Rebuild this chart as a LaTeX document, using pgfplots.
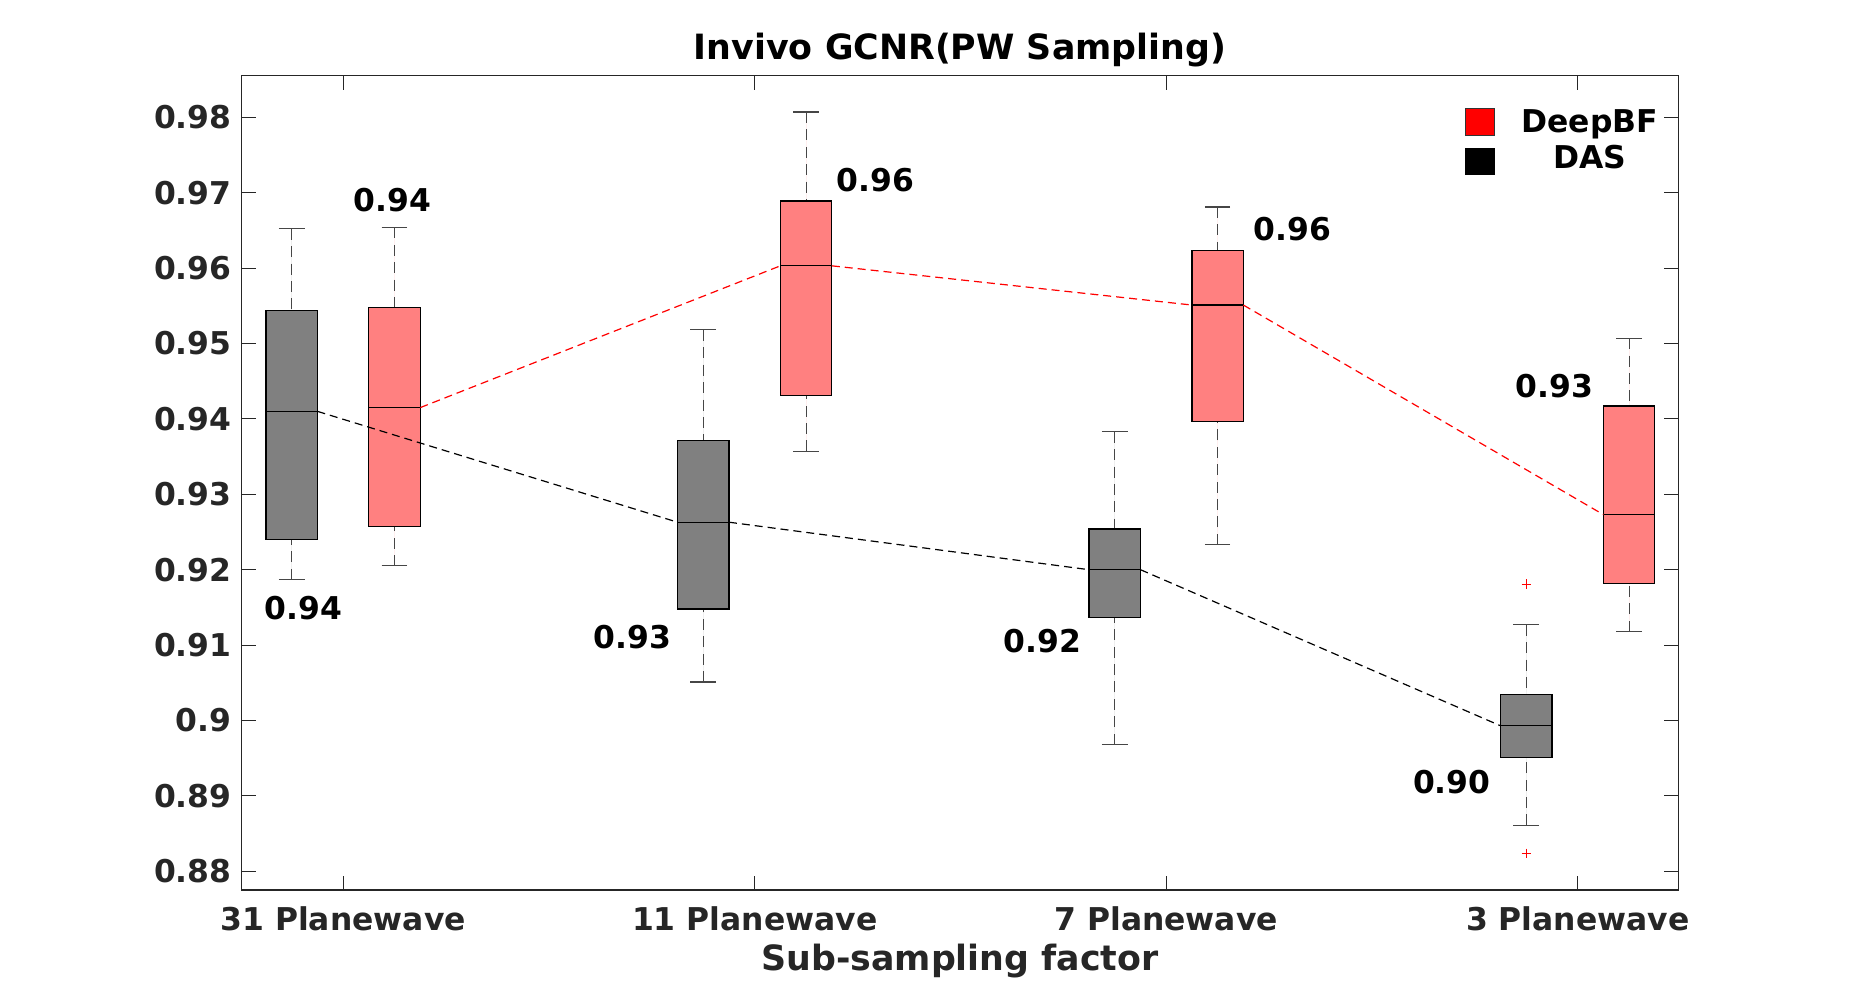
\documentclass[border=0pt]{standalone}
\usepackage{fontspec}
\setmainfont{DejaVu Sans}
\usepackage{pgfplots}
\pgfplotsset{compat=1.18}
\usepgfplotslibrary{statistics}
\definecolor{axgray}{RGB}{38,38,38}
\definecolor{dasfill}{RGB}{128,128,128}
\definecolor{bffill}{RGB}{255,128,128}
\definecolor{whisk}{RGB}{70,70,70}
\newcommand{\tfont}{\fontsize{15.7}{18}\selectfont\bfseries}
\newcommand{\lfont}{\fontsize{17.4}{20}\selectfont\bfseries}
\tikzset{
  wline/.style={draw=whisk, line width=0.55pt, dash pattern=on 5.5pt off 3.2pt},
  cline/.style={draw=whisk, line width=0.55pt, solid},
}
\pgfplotsset{
  boxplot/draw direction=y,
  boxplot/draw/lower whisker/.code={%
    \draw[wline] (boxplot cs:\pgfplotsboxplotvalue{lower whisker}) -- (boxplot cs:\pgfplotsboxplotvalue{lower quartile});
    \draw[cline] (boxplot whisker cs:\pgfplotsboxplotvalue{lower whisker},0) -- (boxplot whisker cs:\pgfplotsboxplotvalue{lower whisker},1);
  },
  boxplot/draw/upper whisker/.code={%
    \draw[wline] (boxplot cs:\pgfplotsboxplotvalue{upper whisker}) -- (boxplot cs:\pgfplotsboxplotvalue{upper quartile});
    \draw[cline] (boxplot whisker cs:\pgfplotsboxplotvalue{upper whisker},0) -- (boxplot whisker cs:\pgfplotsboxplotvalue{upper whisker},1);
  },
  dasbox/.style={line width=0.6pt, solid, draw=black, fill=dasfill, forget plot},
  bfbox/.style={line width=0.6pt, solid, draw=black, fill=bffill, forget plot},
}
\begin{document}
\begin{tikzpicture}
\begin{axis}[
  at={(120.75pt,55.5pt)}, anchor=south west,
  scale only axis, width=718.5pt, height=407.35pt,
  xmin=0.753, xmax=4.245, ymin=0.87752, ymax=0.98557,
  xtick={1,2,3,4},
  xticklabels={31 Planewave,11 Planewave,7 Planewave,3 Planewave},
  ytick={0.88,0.89,0.90,0.91,0.92,0.93,0.94,0.95,0.96,0.97,0.98},
  yticklabels={0.88,0.89,0.9,0.91,0.92,0.93,0.94,0.95,0.96,0.97,0.98},
  xtick pos=both, ytick pos=both,
  tick align=inside, major tick length=7.25pt,
  axis line style={draw=axgray, line width=0.55pt},
  tick style={draw=axgray, line width=0.55pt},
  yticklabel style={font=\tfont, text=axgray, anchor=east, inner sep=0pt, xshift=-4.8pt},
  xticklabel style={font=\tfont, text=axgray, anchor=base, inner sep=0pt, yshift=-20pt},
  title={Invivo GCNR(PW Sampling)},
  every axis title shift=0pt,
  title style={font=\lfont, text=black, at={(axis description cs:0.5,1)}, anchor=base, inner sep=0pt, yshift=8pt},
  xlabel={Sub-sampling factor},
  xlabel style={font=\lfont, text=axgray, at={(axis description cs:0.5,0)}, anchor=base, inner sep=0pt, yshift=-40.25pt},
  legend style={draw=none, fill=none, at={(axis description cs:0.8514,0.9595)}, anchor=north west,
    inner sep=0pt, outer sep=0pt, column sep=13.5pt, row sep=4.4pt, font=\tfont,
    nodes={inner sep=0pt}, cells={anchor=base}},
  clip=false,
]
% DAS boxes
\addplot[dasbox, boxplot prepared={draw direction=y, draw position=0.875, box extend=0.125, whisker extend=0.0625,
  lower whisker=0.9187, lower quartile=0.9240, median=0.9410, upper quartile=0.9544, upper whisker=0.9652}] coordinates {};
\addplot[dasbox, boxplot prepared={draw direction=y, draw position=1.875, box extend=0.125, whisker extend=0.0625,
  lower whisker=0.9051, lower quartile=0.9148, median=0.9263, upper quartile=0.9371, upper whisker=0.9518}] coordinates {};
\addplot[dasbox, boxplot prepared={draw direction=y, draw position=2.875, box extend=0.125, whisker extend=0.0625,
  lower whisker=0.8968, lower quartile=0.9137, median=0.9200, upper quartile=0.9254, upper whisker=0.9383}] coordinates {};
\addplot[dasbox, boxplot prepared={draw direction=y, draw position=3.875, box extend=0.125, whisker extend=0.0625,
  lower whisker=0.8861, lower quartile=0.8951, median=0.8993, upper quartile=0.9034, upper whisker=0.9127}] coordinates {};
% DeepBF boxes
\addplot[bfbox, boxplot prepared={draw direction=y, draw position=1.125, box extend=0.125, whisker extend=0.0625,
  lower whisker=0.9205, lower quartile=0.9257, median=0.9415, upper quartile=0.9548, upper whisker=0.9654}] coordinates {};
\addplot[bfbox, boxplot prepared={draw direction=y, draw position=2.125, box extend=0.125, whisker extend=0.0625,
  lower whisker=0.9357, lower quartile=0.9431, median=0.9603, upper quartile=0.9689, upper whisker=0.9807}] coordinates {};
\addplot[bfbox, boxplot prepared={draw direction=y, draw position=3.125, box extend=0.125, whisker extend=0.0625,
  lower whisker=0.9233, lower quartile=0.9397, median=0.9551, upper quartile=0.9623, upper whisker=0.9681}] coordinates {};
\addplot[bfbox, boxplot prepared={draw direction=y, draw position=4.125, box extend=0.125, whisker extend=0.0625,
  lower whisker=0.9118, lower quartile=0.9182, median=0.9273, upper quartile=0.9417, upper whisker=0.9507}] coordinates {};
% outliers
\addplot[only marks, mark=+, mark size=2.3pt, mark options={draw=red, line width=0.5pt}, forget plot]
  coordinates {(3.875,0.9181) (3.875,0.8824)};
% median connecting lines
\addplot[black, line width=0.6pt, dash pattern=on 4pt off 2.5pt, unbounded coords=jump, forget plot]
  coordinates {(0.9375,0.9410) (1.8125,0.9263) (nan,nan) (1.9375,0.9263) (2.8125,0.9200) (nan,nan) (2.9375,0.9200) (3.8125,0.8993)};
\addplot[red, line width=0.6pt, dash pattern=on 4pt off 2.5pt, unbounded coords=jump, forget plot]
  coordinates {(1.1875,0.9415) (2.0625,0.9603) (nan,nan) (2.1875,0.9603) (3.0625,0.9551) (nan,nan) (3.1875,0.9551) (4.0625,0.9273)};
% legend
\addlegendimage{legend image code/.code={\draw[fill=red, draw=black!80, line width=0.5pt] (0pt,-1.65pt) rectangle (14.3pt,11.7pt);}}
\addlegendentry{DeepBF}
\addlegendimage{legend image code/.code={\draw[fill=black, draw=black, line width=0.5pt] (0pt,-3.35pt) rectangle (14.3pt,10pt);}}
\addlegendentry{DAS}
% annotations
\node[font=\tfont, inner sep=0pt] at (axis cs:1.119,0.96903) {0.94};
\node[font=\tfont, inner sep=0pt] at (axis cs:0.903,0.91496) {0.94};
\node[font=\tfont, inner sep=0pt] at (axis cs:1.703,0.9111) {0.93};
\node[font=\tfont, inner sep=0pt] at (axis cs:2.293,0.97162) {0.96};
\node[font=\tfont, inner sep=0pt] at (axis cs:2.699,0.91057) {0.92};
\node[font=\tfont, inner sep=0pt] at (axis cs:3.307,0.96512) {0.96};
\node[font=\tfont, inner sep=0pt] at (axis cs:3.694,0.89188) {0.90};
\node[font=\tfont, inner sep=0pt] at (axis cs:3.944,0.94432) {0.93};
\end{axis}
\pgfresetboundingbox
\path[use as bounding box] (0pt,0pt) rectangle (927.5pt,500.5pt);
\end{tikzpicture}
\end{document}
